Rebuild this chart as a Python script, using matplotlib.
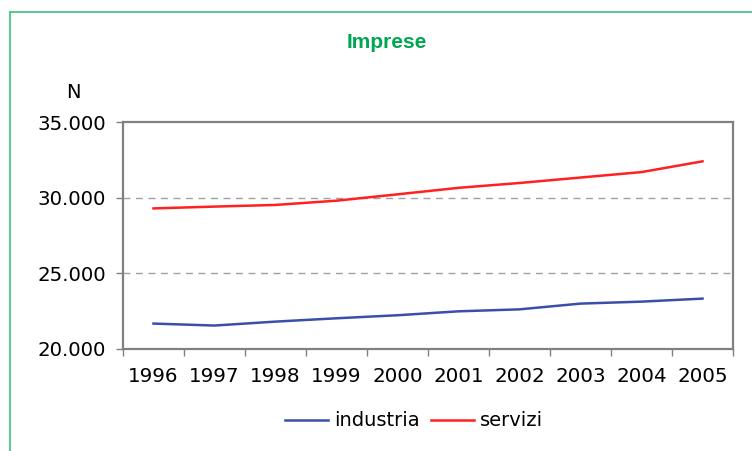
import numpy as np
import matplotlib.pyplot as plt
from matplotlib.ticker import FuncFormatter

# Dati
anni = ["1996", "1997", "1998", "1999", "2000", "2001", "2002", "2003", "2004", "2005"]
industria = [21680, 21550, 21810, 22030, 22230, 22490, 22620, 23000, 23130, 23330]
servizi = [29290, 29410, 29520, 29800, 30220, 30650, 30970, 31330, 31690, 32400]

verde = "#00a651"
grigio = "#808080"

fig = plt.figure(figsize=(7.52, 4.51), dpi=100)
ax = fig.add_axes([123 / 752, 1 - 349 / 451, 610 / 752, 227 / 451])

x = np.arange(len(anni))
ax.plot(x, industria, color="#3a4fa8", lw=1.8, label="industria")
ax.plot(x, servizi, color="#ff2020", lw=1.8, label="servizi")

ax.set_xlim(-0.5, len(anni) - 0.5)
ax.set_ylim(20000, 35000)
ax.set_yticks([20000, 25000, 30000, 35000])
ax.yaxis.set_major_formatter(FuncFormatter(lambda v, p: f"{int(v):,}".replace(",", ".")))
ax.set_xticks(x)
ax.set_xticklabels(anni)
ax.set_xticks(np.arange(-0.5, len(anni)), minor=True)
ax.tick_params(axis="x", which="major", length=0, pad=13, labelsize=14.3)
ax.tick_params(axis="x", which="minor", length=5, color=grigio, width=1)
ax.tick_params(axis="y", length=5, color=grigio, width=1, labelsize=14.2, pad=7.5)

for v in [25000, 30000]:
    ax.axhline(v, color="#a0a0a0", lw=1, ls=(0, (5, 4)), zorder=0)

for s in ax.spines.values():
    s.set_color(grigio)
    s.set_linewidth(1.6)

fig.text(387 / 752, 1 - 42 / 451, "Imprese", color=verde, fontsize=15,
         fontweight="bold", family="Liberation Sans", ha="center", va="center")
fig.text(73 / 752, 1 - 92 / 451, "N", fontsize=14, ha="center", va="center")

fig.legend(loc="center", bbox_to_anchor=(414 / 752, 1 - 421 / 451), ncol=2,
           frameon=False, fontsize=14, handlelength=2.25, columnspacing=0.55,
           handletextpad=0.3)

# cornice verde
fig.add_artist(plt.Line2D([10 / 752, 10 / 752], [0, 1 - 12 / 451],
                          transform=fig.transFigure, color="#3cbf7c", lw=1.2))
fig.add_artist(plt.Line2D([10 / 752, 1], [1 - 12 / 451, 1 - 12 / 451],
                          transform=fig.transFigure, color="#3cbf7c", lw=1.2))

plt.savefig("out.png", dpi=100)
